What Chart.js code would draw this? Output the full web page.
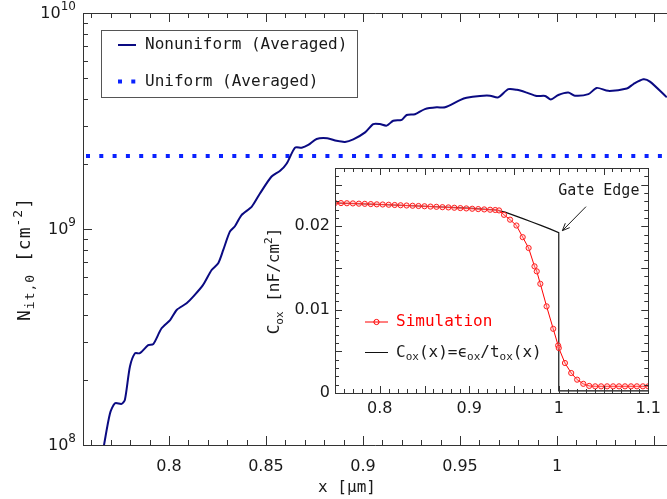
<!DOCTYPE html>
<html>
<head>
<meta charset="utf-8">
<script src="https://cdn.jsdelivr.net/npm/chart.js@4.4.1/dist/chart.umd.min.js"></script>
<style>
  html, body { margin: 0; padding: 0; background: #fff; }
  #wrap { position: relative; width: 667px; height: 499px; overflow: hidden; }
  #wrap canvas { position: absolute; left: 0; top: 0; }
</style>
</head>
<body>
<div id="wrap">
  <canvas id="mainChart" width="667" height="499"></canvas>
  <canvas id="insetChart" width="667" height="499"></canvas>
</div>
<script>
// ---- main plot: N_it,0 along x ----
const nitX = [0.7661, 0.7696, 0.7722, 0.7756, 0.7773, 0.7799, 0.7825, 0.7850, 0.7893, 0.7919,
  0.7962, 0.8006, 0.8040, 0.8091, 0.8125, 0.8176, 0.8220, 0.8254, 0.8280, 0.8314,
  0.8340, 0.8374, 0.8427, 0.8469, 0.8529, 0.8573, 0.8607, 0.8650, 0.8684, 0.8718,
  0.8761, 0.8816, 0.8864, 0.8907, 0.8950, 0.9011, 0.9053, 0.9087, 0.9122, 0.9156,
  0.9200, 0.9225, 0.9268, 0.9319, 0.9380, 0.9423, 0.9500, 0.9534, 0.9603, 0.9655,
  0.9697, 0.9749, 0.9793, 0.9844, 0.9895, 0.9939, 0.9968, 1.0007, 1.0058, 1.0092,
  1.0162, 1.0205, 1.0264, 1.0360, 1.0394, 1.0445, 1.0479, 1.0566];
const nitY = [0.95e8, 1.40e8, 1.56e8, 1.55e8, 1.62e8, 2.31e8, 2.66e8, 2.66e8, 2.90e8, 2.93e8,
  3.47e8, 3.79e8, 4.22e8, 4.53e8, 4.86e8, 5.51e8, 6.46e8, 6.94e8, 8.00e8, 9.72e8,
  1.03e9, 1.16e9, 1.27e9, 1.46e9, 1.75e9, 1.86e9, 2.01e9, 2.38e9, 2.38e9, 2.45e9,
  2.61e9, 2.63e9, 2.56e9, 2.53e9, 2.60e9, 2.80e9, 3.06e9, 3.06e9, 3.01e9, 3.17e9,
  3.20e9, 3.37e9, 3.40e9, 3.59e9, 3.66e9, 3.66e9, 3.95e9, 4.05e9, 4.13e9, 4.14e9,
  4.07e9, 4.44e9, 4.41e9, 4.28e9, 4.13e9, 4.13e9, 3.98e9, 4.17e9, 4.28e9, 4.14e9,
  4.21e9, 4.50e9, 4.36e9, 4.47e9, 4.69e9, 4.93e9, 4.81e9, 4.07e9];
const uniformLevel = 2.18e9;
const mainSeriesNames = ['Nonuniform (Averaged)', 'Uniform (Averaged)'];
const mainXTicks = [0.8, 0.85, 0.9, 0.95, 1];
const mainXTickLabels = ['0.8', '0.85', '0.9', '0.95', '1'];
const mainYTicks = [1e8, 1e9, 1e10];
const mainYTickBase = ['10', '10', '10'];
const mainYTickExp = ['8', '9', '10'];

// ---- inset: C_ox along x ----
const simX = [0.7500, 0.7567, 0.7633, 0.7700, 0.7767, 0.7833, 0.7900, 0.7967, 0.8033, 0.8100,
  0.8167, 0.8233, 0.8300, 0.8367, 0.8433, 0.8500, 0.8567, 0.8633, 0.8700, 0.8767,
  0.8833, 0.8900, 0.8967, 0.9033, 0.9100, 0.9167, 0.9233, 0.9290,
  0.9333, 0.9388, 0.9456, 0.9527, 0.9597, 0.9663, 0.9729, 0.9754, 0.9794, 0.9864,
  0.9938, 0.9993, 1.0000, 1.0069, 1.0139, 1.0205, 1.0274, 1.0340,
  1.0407, 1.0473, 1.0540, 1.0607, 1.0673, 1.0740, 1.0807, 1.0873, 1.0940, 1.1000];
const simY = [0.02280, 0.02279, 0.02277, 0.02275, 0.02272, 0.02270, 0.02267, 0.02264, 0.02262, 0.02259,
  0.02256, 0.02253, 0.02250, 0.02247, 0.02244, 0.02241, 0.02237, 0.02234, 0.02230, 0.02227,
  0.02223, 0.02219, 0.02215, 0.02211, 0.02207, 0.02203, 0.02199, 0.02196,
  0.02191, 0.02138, 0.02080, 0.02010, 0.01870, 0.01740, 0.01520, 0.01460, 0.01310, 0.01040,
  0.00770, 0.00570, 0.00540, 0.00360, 0.00240, 0.00160, 0.00110, 0.00085,
  0.00080, 0.00080, 0.00080, 0.00080, 0.00080, 0.00080, 0.00080, 0.00080, 0.00080, 0.00080];
const modelX = [0.75, 0.80, 0.85, 0.90, 0.93, 0.94, 0.95, 0.96, 0.97, 0.98, 0.99, 1.0, 1.0, 1.1];
const modelY = [0.02280, 0.02262, 0.02241, 0.02219, 0.02196, 0.02170, 0.02132, 0.02092, 0.02052,
  0.02012, 0.01970, 0.01925, 0.00025, 0.00025];
const insetXTicks = [0.8, 0.9, 1, 1.1];
const insetXTickLabels = ['0.8', '0.9', '1', '1.1'];
const insetYTicks = [0, 0.01, 0.02];
const insetYTickLabels = ['0', '0.01', '0.02'];

const sans = 'DejaVu Sans';
const mono = 'DejaVu Sans Mono';
const ink = '#1a1a1a';
Chart.defaults.font.family = sans;
Chart.defaults.font.size = 16;
Chart.defaults.color = ink;

// text with sub/superscripts: parts = [[text, 'n'|'sub'|'sup'], ...]
function richWidth(ctx, parts, size, ratio) {
  let w = 0;
  parts.forEach(([t, k]) => {
    ctx.font = (k === 'n' ? size : Math.round(size * ratio)) + 'px ' + mono;
    w += ctx.measureText(t).width;
  });
  return w;
}
function richText(ctx, parts, x, y, size, ratio) {
  let cx = x;
  ctx.textBaseline = 'middle';
  ctx.textAlign = 'left';
  parts.forEach(([t, k]) => {
    ctx.font = (k === 'n' ? size : Math.round(size * ratio)) + 'px ' + mono;
    const dy = k === 'sub' ? size * 0.3 : (k === 'sup' ? -size * 0.35 : 0);
    ctx.fillText(t, cx, y + dy);
    cx += ctx.measureText(t).width;
  });
}

function tickMarks(ctx, scale, values, len, side, area) {
  values.forEach(v => {
    const p = Math.round(scale.getPixelForValue(v)) + 0.5;
    ctx.beginPath();
    if (side === 'bottom') { ctx.moveTo(p, area.bottom); ctx.lineTo(p, area.bottom - len); }
    if (side === 'top') { ctx.moveTo(p, area.top); ctx.lineTo(p, area.top + len); }
    if (side === 'left') { ctx.moveTo(area.left, p); ctx.lineTo(area.left + len, p); }
    if (side === 'right') { ctx.moveTo(area.right, p); ctx.lineTo(area.right - len, p); }
    ctx.stroke();
  });
}

const mainDecor = {
  id: 'mainDecor',
  afterDraw(chart) {
    const ctx = chart.ctx, a = chart.chartArea;
    const xs = chart.scales.x, ys = chart.scales.y;
    ctx.save();
    ctx.strokeStyle = '#333';
    ctx.lineWidth = 1;
    const L = Math.round(a.left) + 0.5, T = Math.round(a.top) + 0.5, B = Math.round(a.bottom) + 0.5;
    ctx.beginPath();
    ctx.moveTo(a.right, T); ctx.lineTo(L, T); ctx.lineTo(L, B); ctx.lineTo(a.right, B);
    ctx.stroke();
    const major = [], minor = [];
    for (let k = 76; k <= 105; k++) (k % 5 === 0 ? major : minor).push(k / 100);
    ['top', 'bottom'].forEach(s => {
      tickMarks(ctx, xs, major, 9, s, a);
      tickMarks(ctx, xs, minor, 5, s, a);
    });
    const yMinor = [];
    [1e8, 1e9].forEach(d => { for (let m = 2; m <= 9; m++) yMinor.push(m * d); });
    tickMarks(ctx, ys, mainYTicks, 9, 'left', a);
    tickMarks(ctx, ys, yMinor, 5, 'left', a);

    // y tick labels: 10 with superscript exponent
    ctx.fillStyle = ink;
    ctx.textBaseline = 'middle';
    mainYTicks.forEach((v, i) => {
      const y = ys.getPixelForValue(v);
      ctx.font = '12px ' + sans;
      const ew = ctx.measureText(mainYTickExp[i]).width;
      ctx.textAlign = 'left';
      ctx.fillText(mainYTickExp[i], 76 - ew, y - 6);
      ctx.font = '16px ' + sans;
      ctx.textAlign = 'right';
      ctx.fillText(mainYTickBase[i], 76 - ew, y + 1);
    });

    // legend
    ctx.textAlign = 'left';
    ctx.fillStyle = '#fff';
    ctx.fillRect(101.5, 30.5, 256, 67);
    ctx.strokeStyle = '#555';
    ctx.strokeRect(101.5, 30.5, 256, 67);
    const ds = chart.data.datasets;
    ctx.strokeStyle = ds[0].borderColor; ctx.lineWidth = ds[0].borderWidth;
    ctx.beginPath(); ctx.moveTo(118, 45); ctx.lineTo(136, 45); ctx.stroke();
    ctx.strokeStyle = ds[1].borderColor; ctx.lineWidth = ds[1].borderWidth;
    ctx.setLineDash(ds[1].borderDash);
    ctx.beginPath(); ctx.moveTo(118, 81.5); ctx.lineTo(136, 81.5); ctx.stroke();
    ctx.setLineDash([]);
    ctx.fillStyle = ink;
    ctx.font = '16px ' + mono;
    ctx.fillText(mainSeriesNames[0], 145, 45);
    ctx.fillText(mainSeriesNames[1], 145, 81.5);

    // axis titles
    ctx.textAlign = 'center';
    ctx.fillText('x [\u00B5m]', 347, 488);
    const yt = [['N', 'n'], ['it,0', 'sub'], [' [cm', 'n'], ['-2', 'sup'], [']', 'n']];
    ctx.letterSpacing = '1px';
    const w = richWidth(ctx, yt, 18, 0.72);
    ctx.translate(25, 259);
    ctx.rotate(-Math.PI / 2);
    richText(ctx, yt, -w / 2, 0, 18, 0.72);
    ctx.restore();
  }
};

new Chart(document.getElementById('mainChart'), {
  type: 'line',
  data: {
    datasets: [
      {
        label: mainSeriesNames[0],
        data: nitX.map((x, i) => ({ x: x, y: nitY[i] })),
        borderColor: '#0a0a82',
        borderWidth: 2,
        pointRadius: 0,
        tension: 0.25
      },
      {
        label: mainSeriesNames[1],
        data: [{ x: 0.7557, y: uniformLevel }, { x: 1.0567, y: uniformLevel }],
        borderColor: '#0a22ff',
        borderWidth: 4,
        borderDash: [4, 9.3],
        borderDashOffset: -3,
        borderCapStyle: 'butt',
        pointRadius: 0
      }
    ]
  },
  options: {
    responsive: false,
    animation: false,
    events: [],
    layout: { padding: { top: 13, left: 0, right: 0, bottom: 0 } },
    plugins: { legend: { display: false }, tooltip: { enabled: false } },
    scales: {
      x: {
        type: 'linear', min: 0.7557, max: 1.0567,
        grid: { display: false, drawTicks: false },
        border: { display: false },
        afterBuildTicks: s => { s.ticks = mainXTicks.map(v => ({ value: v })); },
        afterFit: s => { s.height = 54; },
        ticks: { padding: 12, maxRotation: 0, autoSkip: false, callback: (v, i) => mainXTickLabels[i] }
      },
      y: {
        type: 'logarithmic', min: 1e8, max: 1e10,
        grid: { display: false, drawTicks: false },
        border: { display: false },
        afterBuildTicks: s => { s.ticks = mainYTicks.map(v => ({ value: v })); },
        afterFit: s => { s.width = 83; },
        ticks: { display: false }
      }
    }
  },
  plugins: [mainDecor]
});

const insetDecor = {
  id: 'insetDecor',
  beforeDraw(chart) {
    const ctx = chart.ctx, a = chart.chartArea;
    ctx.save();
    ctx.fillStyle = '#fff';
    ctx.fillRect(a.left, a.top, a.right - a.left, a.bottom - a.top);
    ctx.restore();
  },
  afterDraw(chart) {
    const ctx = chart.ctx, a = chart.chartArea;
    const xs = chart.scales.x, ys = chart.scales.y;
    ctx.save();
    ctx.strokeStyle = '#333';
    ctx.lineWidth = 1;
    const L = Math.round(a.left) + 0.5, R = Math.round(a.right) + 0.5;
    const T = Math.round(a.top) + 0.5, B = Math.round(a.bottom) + 0.5;
    ctx.strokeRect(L, T, R - L, B - T);
    const xMaj = [], xMin = [];
    for (let k = 75; k <= 110; k++) (k % 5 === 0 ? xMaj : xMin).push(k / 100);
    const yMaj = [], yMin = [];
    for (let k = 0; k <= 27; k++) (k % 5 === 0 ? yMaj : yMin).push(k / 1000);
    ['top', 'bottom'].forEach(s => {
      tickMarks(ctx, xs, xMaj, 7, s, a);
      tickMarks(ctx, xs, xMin, 4, s, a);
    });
    ['left', 'right'].forEach(s => {
      tickMarks(ctx, ys, yMaj, 7, s, a);
      tickMarks(ctx, ys, yMin, 4, s, a);
    });

    // gate edge annotation
    const tx = xs.getPixelForValue(1.0304), ty = ys.getPixelForValue(0.02236);
    const hx = xs.getPixelForValue(1.004), hy = ys.getPixelForValue(0.01948);
    ctx.strokeStyle = ink;
    ctx.beginPath(); ctx.moveTo(tx, ty); ctx.lineTo(hx, hy); ctx.stroke();
    const ang = Math.atan2(hy - ty, hx - tx);
    ctx.beginPath();
    ctx.moveTo(hx - 8 * Math.cos(ang - 0.4), hy - 8 * Math.sin(ang - 0.4));
    ctx.lineTo(hx, hy);
    ctx.lineTo(hx - 8 * Math.cos(ang + 0.4), hy - 8 * Math.sin(ang + 0.4));
    ctx.stroke();
    ctx.fillStyle = ink;
    ctx.font = '15px ' + mono;
    ctx.textAlign = 'center';
    ctx.textBaseline = 'middle';
    ctx.fillText('Gate Edge', xs.getPixelForValue(1.0447), ys.getPixelForValue(0.02428));

    // legend
    const ds = chart.data.datasets;
    ctx.strokeStyle = ds[0].borderColor; ctx.lineWidth = 1;
    ctx.beginPath(); ctx.moveTo(365, 322); ctx.lineTo(388, 322); ctx.stroke();
    ctx.beginPath(); ctx.arc(376.5, 322, 2.6, 0, Math.PI * 2); ctx.stroke();
    ctx.strokeStyle = ds[1].borderColor;
    ctx.beginPath(); ctx.moveTo(365, 352.5); ctx.lineTo(388, 352.5); ctx.stroke();
    ctx.textAlign = 'left';
    ctx.fillStyle = ds[0].borderColor;
    ctx.font = '16px ' + mono;
    ctx.fillText(ds[0].label, 396, 322);
    ctx.fillStyle = ink;
    richText(ctx, [['C', 'n'], ['ox', 'sub'], ['(x)=\u03F5', 'n'], ['ox', 'sub'], ['/t', 'n'], ['ox', 'sub'], ['(x)', 'n']], 396, 352.5, 16, 0.68);

    // y title
    const yt = [['C', 'n'], ['ox', 'sub'], [' [nF/cm', 'n'], ['2', 'sup'], [']', 'n']];
    const w = richWidth(ctx, yt, 16, 0.68);
    ctx.translate(275, 281);
    ctx.rotate(-Math.PI / 2);
    richText(ctx, yt, -w / 2, 0, 16, 0.68);
    ctx.restore();
  }
};

new Chart(document.getElementById('insetChart'), {
  type: 'line',
  data: {
    datasets: [
      {
        label: 'Simulation',
        data: simX.map((x, i) => ({ x: x, y: simY[i] })),
        borderColor: '#ff0000',
        borderWidth: 1,
        pointRadius: 2.6,
        pointBorderWidth: 1,
        pointBorderColor: '#ff2020',
        pointBackgroundColor: 'rgba(255,180,180,0.35)',
        tension: 0
      },
      {
        label: 'model',
        data: modelX.map((x, i) => ({ x: x, y: modelY[i] })),
        borderColor: '#111',
        borderWidth: 1.2,
        pointRadius: 0,
        tension: 0
      }
    ]
  },
  options: {
    responsive: false,
    animation: false,
    events: [],
    layout: { padding: { top: 168, left: 290, right: 14, bottom: 76 } },
    plugins: { legend: { display: false }, tooltip: { enabled: false } },
    scales: {
      x: {
        type: 'linear', min: 0.75, max: 1.1,
        grid: { display: false, drawTicks: false },
        border: { display: false },
        afterBuildTicks: s => { s.ticks = insetXTicks.map(v => ({ value: v })); },
        afterFit: s => { s.height = 30; },
        ticks: { padding: 6, maxRotation: 0, autoSkip: false, callback: (v, i) => insetXTickLabels[i] }
      },
      y: {
        type: 'linear', min: 0, max: 0.027,
        grid: { display: false, drawTicks: false },
        border: { display: false },
        afterBuildTicks: s => { s.ticks = insetYTicks.map(v => ({ value: v })); },
        afterFit: s => { s.width = 45; },
        ticks: { padding: 5, autoSkip: false, callback: (v, i) => insetYTickLabels[i] }
      }
    }
  },
  plugins: [insetDecor]
});
</script>
</body>
</html>
